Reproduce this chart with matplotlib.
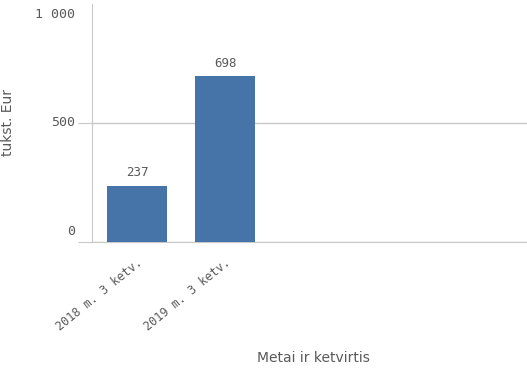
import matplotlib
matplotlib.use("Agg")
import matplotlib.pyplot as plt

categories = ["2018 m. 3 ketv.", "2019 m. 3 ketv."]
values = [237, 698]
yticks = [0, 500, 1000]
ytick_labels = ["0", "500", "1 000"]

bar_color = "#4674a8"
text_color = "#595959"
line_color = "#c8c8c8"

fig = plt.figure(figsize=(5.27, 3.73), dpi=100)
W, H = 527, 373
ax = fig.add_axes([92 / W, 1 - 242 / H, (527 - 92) / W, (242 - 4) / H])

x = list(range(len(categories)))
ax.bar(x, values, width=0.69, color=bar_color, zorder=3)
ax.set_xlim(-0.511, 4.43)
ax.set_ylim(0, 1000)

for xi, v in zip(x, values):
    ax.text(xi, v + 26, str(v), ha="center", va="bottom", fontsize=9,
            family="DejaVu Sans Mono", color=text_color)

for s in ["top", "right"]:
    ax.spines[s].set_visible(False)
ax.spines["left"].set_color(line_color)
ax.spines["bottom"].set_color(line_color)

ax.set_yticks([t for t in yticks if t < 1000])
ax.set_yticklabels([])
ax.tick_params(axis="y", length=10, color=line_color)
ax.grid(axis="y", color=line_color, linewidth=1, zorder=0)
for t, lab in zip(yticks, ytick_labels):
    va = "center"
    off = 0
    if t == 0:
        va = "bottom"; off = 3
    elif t == 1000:
        va = "top"; off = -3
    ax.annotate(lab, xy=(0, t), xycoords=("axes fraction", "data"),
                xytext=(-12, off), textcoords="offset points",
                ha="right", va=va, fontsize=9.5, family="DejaVu Sans Mono",
                color=text_color)

ax.set_xticks(x)
ax.set_xticklabels(categories, rotation=39, ha="right", rotation_mode="anchor",
                   fontsize=8.5, family="DejaVu Sans Mono", color=text_color)
ax.tick_params(axis="x", length=0, pad=10)

fig.text(313 / W, 1 - 358 / H, "Metai ir ketvirtis", ha="center", va="center",
         fontsize=10, color=text_color)
fig.text(8 / W, 1 - 122 / H, "tukst. Eur", ha="center", va="center",
         rotation=90, fontsize=10, color=text_color)

fig.savefig("out.png", dpi=100)
